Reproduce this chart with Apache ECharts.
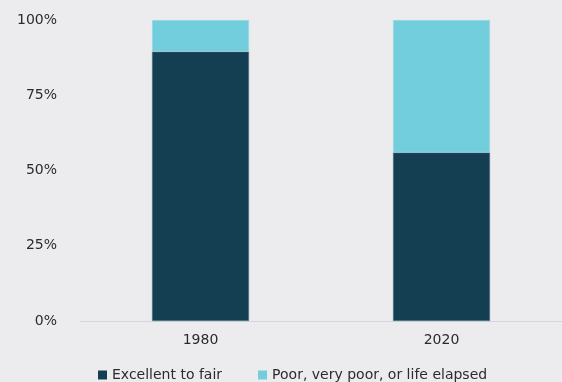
<!DOCTYPE html>
<html><head><meta charset="utf-8">
<script src="https://cdn.jsdelivr.net/npm/echarts@6/dist/echarts.min.js"></script>
<style>html,body{margin:0;padding:0;background:#ececee;}#c{width:562px;height:382px;}</style>
</head><body><div id="c"></div>
<script>
const categories = ['1980', '2020'];
const excellentToFair = [89.5, 56];
const poorOrElapsed = [10.5, 44];
const yTicks = [0, 25, 50, 75, 100];

const chart = echarts.init(document.getElementById('c'));
const font = '"DejaVu Sans", "Liberation Sans", sans-serif';
chart.setOption({
  backgroundColor: '#ececee',
  animation: false,
  textStyle: { fontFamily: font },
  grid: { left: 80, right: -4, top: 20, bottom: 61, containLabel: false },
  legend: {
    top: 363, left: 93, itemWidth: 9, itemHeight: 9, itemGap: 36,
    icon: 'rect',
    itemStyle: { borderWidth: 0 },
    textStyle: { color: '#2b2b2b', fontSize: 14, fontFamily: font },
    data: ['Excellent to fair', 'Poor, very poor, or life elapsed']
  },
  xAxis: {
    type: 'category', data: categories,
    axisLine: { lineStyle: { color: '#d6d6d8', width: 1 } },
    axisTick: { show: false },
    axisLabel: { color: '#2b2b2b', fontSize: 14, margin: 12, fontFamily: font }
  },
  yAxis: {
    type: 'value', min: yTicks[0], max: yTicks[yTicks.length-1], interval: 25,
    splitLine: { show: false },
    axisLine: { show: false }, axisTick: { show: false },
    axisLabel: { color: '#2b2b2b', fontSize: 14, margin: 23, formatter: v => v + '%', fontFamily: font }
  },
  series: [
    { name: 'Excellent to fair', type: 'bar', stack: 's', data: excellentToFair, barWidth: 97,
      itemStyle: { color: '#143f52', borderColor: '#5a8896', borderWidth: 0.5 } },
    { name: 'Poor, very poor, or life elapsed', type: 'bar', stack: 's', data: poorOrElapsed, barWidth: 97,
      itemStyle: { color: '#72cddc', borderColor: '#a8dde6', borderWidth: 0.5 } }
  ]
});
</script></body></html>
